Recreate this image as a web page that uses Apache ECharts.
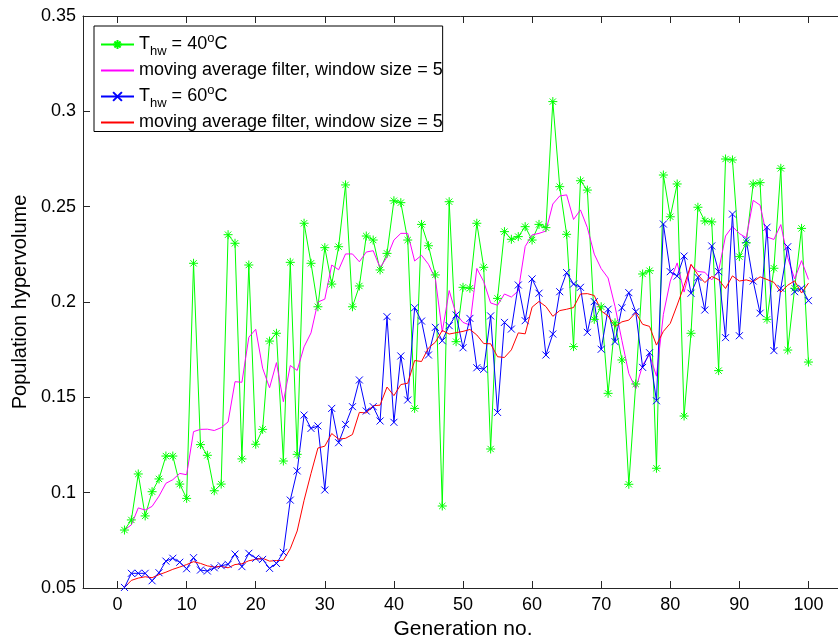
<!DOCTYPE html>
<html><head><meta charset="utf-8">
<script src="https://cdn.jsdelivr.net/npm/echarts@6/dist/echarts.min.js"></script>
<style>html,body{margin:0;padding:0;background:#fff}#c{width:838px;height:641px}</style>
</head><body><div id="c"></div>
<script>
// Generation numbers (x)
const generations = [1,2,3,4,5,6,7,8,9,10,11,12,13,14,15,16,17,18,19,20,21,22,23,24,25,26,27,28,29,30,31,32,33,34,35,36,37,38,39,40,41,42,43,44,45,46,47,48,49,50,51,52,53,54,55,56,57,58,59,60,61,62,63,64,65,66,67,68,69,70,71,72,73,74,75,76,77,78,79,80,81,82,83,84,85,86,87,88,89,90,91,92,93,94,95,96,97,98,99,100];

// T_hw = 40°C population hypervolume
const hv40 = [0.0804,0.0857,0.1098,0.0878,0.1005,0.1072,0.1192,0.1192,0.1045,0.0970,
0.2203,0.1252,0.1196,0.1010,0.1045,0.2353,0.2308,0.1177,0.2194,0.1254,
0.1332,0.1795,0.1836,0.1166,0.2208,0.1201,0.2413,0.2203,0.1975,0.2285,
0.2094,0.2290,0.2614,0.1975,0.2084,0.2346,0.2325,0.2168,0.2255,0.2531,
0.2521,0.2325,0.1442,0.2407,0.2295,0.2142,0.0930,0.2526,0.1792,0.2077,
0.2072,0.2413,0.2182,0.1229,0.2019,0.2369,0.2329,0.2343,0.2395,0.2325,
0.2407,0.2390,0.3051,0.2605,0.2355,0.1766,0.2636,0.2587,0.1909,0.1975,
0.1521,0.1891,0.1696,0.1044,0.1570,0.2147,0.2164,0.1128,0.2666,0.2447,
0.2619,0.1402,0.1836,0.2497,0.2425,0.2420,0.1640,0.2750,0.2745,0.2238,
0.2311,0.2619,0.2626,0.1909,0.2177,0.2701,0.1748,0.2072,0.2386,0.1685];

// moving average (window 5) of the 40°C series, as read
const ma40 = [0.0804,0.0831,0.0920,0.0909,0.0928,0.0982,0.1049,0.1068,0.1101,0.1094,
0.1320,0.1332,0.1333,0.1326,0.1341,0.1371,0.1582,0.1579,0.1815,0.1857,
0.1653,0.1550,0.1682,0.1477,0.1667,0.1641,0.1765,0.1838,0.2000,0.2015,
0.2194,0.2169,0.2252,0.2252,0.2211,0.2262,0.2269,0.2180,0.2236,0.2325,
0.2360,0.2360,0.2215,0.2245,0.2198,0.2122,0.1843,0.2060,0.1937,0.1893,
0.1879,0.2176,0.2107,0.1995,0.1983,0.2042,0.2026,0.2058,0.2291,0.2352,
0.2360,0.2372,0.2514,0.2556,0.2562,0.2433,0.2483,0.2390,0.2251,0.2175,
0.2126,0.1977,0.1798,0.1625,0.1544,0.1670,0.1724,0.1611,0.1935,0.2110,
0.2205,0.2052,0.2194,0.2160,0.2156,0.2116,0.2164,0.2346,0.2396,0.2359,
0.2337,0.2533,0.2508,0.2341,0.2328,0.2406,0.2232,0.2121,0.2217,0.2118];

// T_hw = 60°C population hypervolume
const hv60 = [0.0503,0.0577,0.0577,0.0577,0.0538,0.0580,0.0641,0.0656,0.0635,0.0601,
0.0659,0.0594,0.0589,0.0606,0.0617,0.0624,0.0678,0.0612,0.0682,0.0656,
0.0650,0.0603,0.0629,0.0687,0.0961,0.1114,0.1407,0.1337,0.1350,0.1014,
0.1442,0.1262,0.1358,0.1451,0.1591,0.1428,0.1451,0.1376,0.1923,0.1369,
0.1717,0.1486,0.1970,0.1900,0.1722,0.1867,0.1797,0.1876,0.1932,0.1760,
0.1914,0.1655,0.1647,0.1927,0.1421,0.1893,0.1858,0.2089,0.1902,0.2121,
0.2046,0.1722,0.1832,0.2054,0.2154,0.2094,0.2077,0.1841,0.2002,0.1752,
0.1962,0.1792,0.1970,0.2049,0.1949,0.1657,0.1734,0.1482,0.2409,0.2159,
0.2136,0.2241,0.2046,0.2129,0.1958,0.2294,0.2159,0.1813,0.2461,0.1823,
0.2325,0.2110,0.1941,0.2392,0.1745,0.2072,0.2290,0.2054,0.2072,0.2007];

// moving average (window 5) of the 60°C series, as read
const ma60 = [0.0503,0.0540,0.0552,0.0559,0.0554,0.0570,0.0583,0.0598,0.0610,0.0623,
0.0638,0.0629,0.0616,0.0610,0.0613,0.0606,0.0623,0.0627,0.0643,0.0650,
0.0656,0.0641,0.0644,0.0645,0.0706,0.0799,0.0960,0.1101,0.1234,0.1244,
0.1310,0.1281,0.1285,0.1305,0.1421,0.1418,0.1456,0.1459,0.1554,0.1509,
0.1567,0.1574,0.1693,0.1688,0.1759,0.1789,0.1851,0.1832,0.1839,0.1846,
0.1856,0.1827,0.1782,0.1781,0.1713,0.1709,0.1749,0.1838,0.1833,0.1973,
0.2003,0.1976,0.1925,0.1955,0.1962,0.1971,0.2042,0.2044,0.2034,0.1953,
0.1927,0.1870,0.1896,0.1905,0.1944,0.1883,0.1872,0.1774,0.1846,0.1888,
0.1984,0.2085,0.2198,0.2142,0.2102,0.2134,0.2117,0.2071,0.2137,0.2110,
0.2116,0.2106,0.2132,0.2118,0.2103,0.2052,0.2088,0.2111,0.2047,0.2099];

const xTicks = [0,10,20,30,40,50,60,70,80,90,100];
const yTicks = [0.05,0.1,0.15,0.2,0.25,0.3,0.35];
const yTickLabels = ['0.05','0.1','0.15','0.2','0.25','0.3','0.35'];

const FONT = '"Liberation Sans", Arial, Helvetica, sans-serif';
const AX = '#262626';
const asterisk = 'path://M5,0L5,10M0,5L10,5M1.5,1.5L8.5,8.5M1.5,8.5L8.5,1.5';
const cross = 'path://M0,0L10,10M0,10L10,0';

const legendText = {
  'T40': '{n|T}{sub|hw}{n| = 40}{sup|o}{n|C}',
  'MA40': '{n|moving average filter, window size = 5}',
  'T60': '{n|T}{sub|hw}{n| = 60}{sup|o}{n|C}',
  'MA60': '{n|moving average filter, window size = 5}'
};

function pairs(arr){ return generations.map((g,i)=>[g, arr[i]]); }

const hidden = {color: 'rgba(0,0,0,0)', borderWidth: 0, opacity: 0};

const chart = echarts.init(document.getElementById('c'), null, {renderer:'canvas'});
chart.setOption({
  animation: false,
  backgroundColor: '#fff',
  grid: {left: 83, top: 16, width: 760, height: 572, containLabel: false, outerBoundsMode: 'none'},
  xAxis: [{
    type: 'value', min: -5, max: 105, position: 'bottom',
    name: 'Generation no.', nameLocation: 'middle', nameGap: 30,
    nameTextStyle: {fontSize: 21, fontFamily: FONT, color: '#000'},
    axisLine: {show: true, onZero: false, lineStyle: {color: AX, width: 1}},
    axisTick: {show: true, inside: true, length: 7, customValues: xTicks, lineStyle: {color: AX}},
    axisLabel: {show: true, customValues: xTicks, fontSize: 18, fontFamily: FONT, color: '#000', margin: 8},
    splitLine: {show: false}
  },{
    type: 'value', min: -5, max: 105, position: 'top',
    axisLine: {show: true, onZero: false, lineStyle: {color: AX, width: 1}},
    axisTick: {show: true, inside: true, length: 7, customValues: xTicks, lineStyle: {color: AX}},
    axisLabel: {show: false},
    splitLine: {show: false}
  }],
  yAxis: [{
    type: 'value', min: 0.05, max: 0.35,
    name: 'Population hypervolume', nameLocation: 'middle', nameGap: 52,
    nameTextStyle: {fontSize: 20, fontFamily: FONT, color: '#000'},
    axisLine: {show: true, onZero: false, lineStyle: {color: AX, width: 1}},
    axisTick: {show: true, inside: true, length: 7, customValues: yTicks, lineStyle: {color: AX}},
    axisLabel: {show: true, customValues: yTicks, fontSize: 18, fontFamily: FONT, color: '#000', margin: 7,
      formatter: v => { const i = yTicks.findIndex(t => Math.abs(t - v) < 1e-9); return i >= 0 ? yTickLabels[i] : ''; }},
    splitLine: {show: false}
  }],
  legend: {
    orient: 'vertical', left: 94, top: 26,
    itemWidth: 33, itemHeight: 11, itemGap: 3.5,
    padding: [5, 0, 0, 6],
    borderColor: '#000', borderWidth: 1, backgroundColor: '#fff',
    data: [
      {name: 'T40'},
      {name: 'MA40', itemStyle: hidden},
      {name: 'T60'},
      {name: 'MA60', itemStyle: hidden}
    ],
    formatter: name => legendText[name],
    textStyle: {
      fontSize: 18, fontFamily: FONT, color: '#000',
      rich: {
        n: {fontSize: 18, fontFamily: FONT, color: '#000', lineHeight: 22, verticalAlign: 'middle'},
        sub: {fontSize: 13, fontFamily: FONT, color: '#000', lineHeight: 12, padding: [14,0,0,0], verticalAlign: 'middle'},
        sup: {fontSize: 13, fontFamily: FONT, color: '#000', lineHeight: 12, padding: [0,0,12,0], verticalAlign: 'middle'}
      }
    }
  },
  series: [
    {name: 'T40', type: 'line', data: pairs(hv40), symbol: asterisk, symbolSize: 9,
     lineStyle: {color: '#00ff00', width: 1}, itemStyle: {color: '#00ff00', borderColor: '#00ff00', borderWidth: 1}},
    {name: 'MA40', type: 'line', data: pairs(ma40), symbol: 'none', showSymbol: false,
     lineStyle: {color: '#ff00ff', width: 1}, itemStyle: {color: '#ff00ff'}},
    {name: 'T60', type: 'line', data: pairs(hv60), symbol: cross, symbolSize: 7,
     lineStyle: {color: '#0000ff', width: 1}, itemStyle: {color: '#0000ff', borderColor: '#0000ff', borderWidth: 1}},
    {name: 'MA60', type: 'line', data: pairs(ma60), symbol: 'none', showSymbol: false,
     lineStyle: {color: '#ff0000', width: 1}, itemStyle: {color: '#ff0000'}}
  ]
});
</script></body></html>
